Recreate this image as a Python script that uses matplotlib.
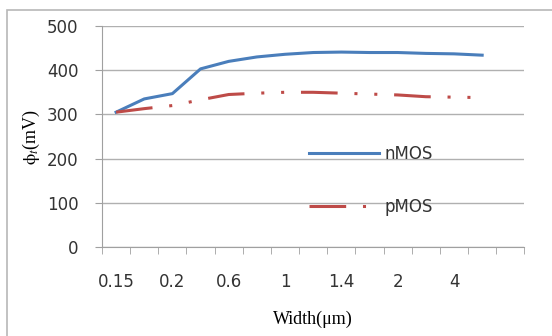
import numpy as np
import matplotlib.pyplot as plt
from matplotlib.patches import Rectangle

# category axis (Excel style), only every other label is shown
widths = ["0.15", "0.18", "0.2", "0.4", "0.6", "0.8", "1", "1.2",
          "1.4", "1.6", "2", "3", "4", "5", ""]
nmos = [305, 335, 347, 403, 420, 430, 436, 440, 441, 440, 440, 438, 437, 434]
pmos = [305, 313, 320, 333, 345, 348, 350, 350, 348, 346, 344, 340, 339, 338]

plt.rcParams['mathtext.fontset'] = 'stix'

fig = plt.figure(figsize=(5.52, 3.36), dpi=100)
ax = fig.add_axes([0.1848, 0.265, 0.7652, 0.6576])

# outer chart border
fig.patches.append(Rectangle((7 / 552, -0.1), 1.2, 1 - 10 / 336 + 0.1,
                             transform=fig.transFigure, fill=False,
                             edgecolor='#B8B8B8', linewidth=1.2))

x = np.arange(len(nmos))
ax.plot(x, nmos, color='#4A7EBB', linewidth=2.2, label='nMOS')
ax.plot(x, pmos, color='#BE4B48', linewidth=2.2, label='pMOS',
        linestyle=(0, (12, 5.5, 1, 5.5, 1, 5.5)))

ax.set_xlim(-0.5, len(widths) - 0.5)
ax.set_ylim(0, 500)
ax.set_yticks([0, 100, 200, 300, 400, 500])
ax.grid(axis='y', color='#B0B0B0', linewidth=1)
ax.set_axisbelow(True)

ax.set_xticks(np.arange(0, len(widths), 2))
ax.set_xticklabels(widths[::2])
ax.set_xticks(np.arange(len(widths) + 1) - 0.5, minor=True)
ax.tick_params(axis='x', which='major', length=0, pad=19, labelsize=12,
               labelcolor='#333333')
ax.tick_params(axis='x', which='minor', length=5, color='#A0A0A0')
ax.tick_params(axis='y', length=5, color='#A0A0A0', pad=12, labelsize=12,
               labelcolor='#333333')

for s in ['top', 'right']:
    ax.spines[s].set_visible(False)
for s in ['left', 'bottom']:
    ax.spines[s].set_color('#A0A0A0')

ax.set_ylabel(r'$\mathrm{\phi}_t$(mV)', fontsize=13, family='Liberation Serif')
ax.yaxis.set_label_coords(-0.142, 0.5)
ax.set_xlabel('Width(μm)', fontsize=13, family='Liberation Serif')
ax.xaxis.set_label_coords(0.5, -0.29)

ax.legend(loc='center left', bbox_to_anchor=(0.455, 0.3), frameon=False,
          handlelength=4.2, handletextpad=0.3, labelspacing=2.1,
          fontsize=12, labelcolor='#333333')

fig.savefig('out.png', dpi=100)
